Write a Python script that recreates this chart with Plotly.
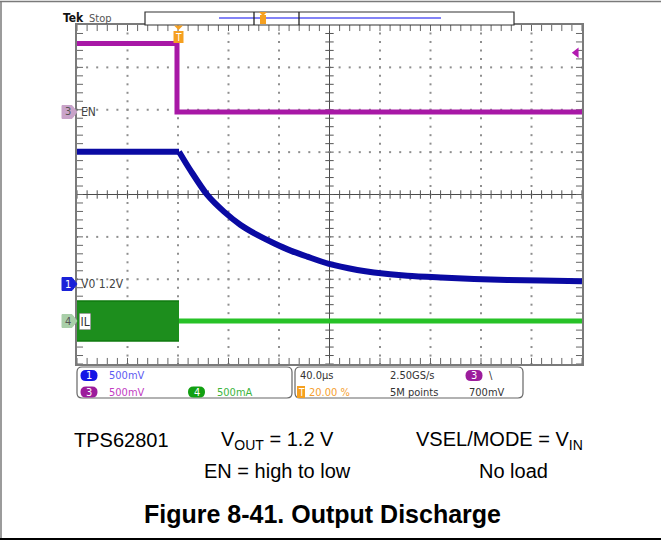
import numpy as np
import plotly.graph_objects as go

# ---------------- data ----------------
T_DIV = 40.0                 # µs / div
T_MIN, T_MAX = -80.0, 320.0  # trigger at 20 %
CH1_SCALE, CH1_POS = 0.5, -2.11    # VO   500 mV/div
CH3_SCALE, CH3_POS = 0.5, 1.946    # EN   500 mV/div
CH4_SCALE, CH4_POS = 0.5, -2.983   # IL   500 mA/div
TRIG_LEVEL = 0.7                   # V on ch3

vo_t = [-80, 0.8, 10.0, 23.2, 36.4, 49.6, 62.8, 76.0, 89.2, 102.4, 119.6,
        142.0, 155.2, 181.6, 208.1, 234.5, 260.9, 287.3, 320]
vo_v = [1.56, 1.56, 1.337, 1.05, 0.853, 0.696, 0.578, 0.48, 0.393, 0.322, 0.236,
        0.165, 0.135, 0.096, 0.075, 0.059, 0.047, 0.039, 0.030]

en_t = [-80, -0.8, -0.8, 320]
en_v = [0.81, 0.81, 0.0, 0.0]

il_band_t = [-80, 0.8]
il_band_hi = [0.236, 0.236]
il_band_lo = [-0.236, -0.236]
il_t = [0.8, 320]
il_v = [0.0, 0.0]

# ---------------- helpers ----------------
W, H = 661, 540
L, R, T, B = 77, 582, 25, 364


def PX(x):
    return (x - L) / (R - L)


def PY(y):
    return (B - y) / (B - T)


def div(v, scale, pos):
    return [a / scale + pos for a in v]


FONT_SCOPE = "Liberation Sans Narrow, DejaVu Sans Condensed, Liberation Sans, Arial"
FONT_BODY = "Liberation Sans, Arial"

fig = go.Figure()

# grid dots
gx, gy = [], []
for k in np.arange(T_MIN + T_DIV, T_MAX, T_DIV):
    if abs(k - 120) < 1e-6:
        continue
    for yy in np.arange(-4, 4.001, 0.2):
        gx.append(k)
        gy.append(yy)
for yy in range(-3, 4):
    if yy == 0:
        continue
    for k in np.arange(T_MIN, T_MAX + 0.001, T_DIV / 5):
        gx.append(k)
        gy.append(yy)
fig.add_trace(go.Scatter(x=gx, y=gy, mode="markers", hoverinfo="skip",
                         marker=dict(symbol="square", size=2, color="#8e8e8e")))

# center cross ticks + border ticks
tick_t = list(np.arange(T_MIN, T_MAX + 0.001, T_DIV / 5))
tick_y = list(np.arange(-4, 4.001, 0.2))
fig.add_trace(go.Scatter(x=tick_t, y=[0] * len(tick_t), mode="markers", hoverinfo="skip",
                         marker=dict(symbol="line-ns", size=6, line=dict(width=1, color="#555"))))
fig.add_trace(go.Scatter(x=[120] * len(tick_y), y=tick_y, mode="markers", hoverinfo="skip",
                         marker=dict(symbol="line-ew", size=6, line=dict(width=1, color="#555"))))
fig.add_trace(go.Scatter(x=tick_t + tick_t, y=[3.94] * len(tick_t) + [-3.94] * len(tick_t),
                         mode="markers", hoverinfo="skip",
                         marker=dict(symbol="line-ns", size=5, line=dict(width=1, color="#666"))))
fig.add_trace(go.Scatter(x=[-78] * len(tick_y) + [318] * len(tick_y), y=tick_y + tick_y,
                         mode="markers", hoverinfo="skip",
                         marker=dict(symbol="line-ew", size=5, line=dict(width=1, color="#666"))))

# IL band (switching, before trigger)
fig.add_trace(go.Scatter(x=il_band_t, y=div(il_band_hi, CH4_SCALE, CH4_POS), mode="lines",
                         line=dict(color="#0f7a0f", width=1.5), hoverinfo="skip"))
fig.add_trace(go.Scatter(x=il_band_t, y=div(il_band_lo, CH4_SCALE, CH4_POS), mode="lines",
                         line=dict(color="#0f7a0f", width=1.5), fill="tonexty",
                         fillcolor="#1d8e1d", hoverinfo="skip"))
# IL after trigger
fig.add_trace(go.Scatter(x=il_t, y=div(il_v, CH4_SCALE, CH4_POS), mode="lines",
                         line=dict(color="#27c227", width=5), hoverinfo="skip"))
# EN
fig.add_trace(go.Scatter(x=en_t, y=div(en_v, CH3_SCALE, CH3_POS), mode="lines",
                         line=dict(color="#a818a6", width=5), hoverinfo="skip"))
fig.add_trace(go.Scatter(x=en_t[1:3], y=div(en_v[1:3], CH3_SCALE, CH3_POS), mode="lines",
                         line=dict(color="#a818a6", width=1.5), hoverinfo="skip"))
# VO: flat part + smooth decay
fig.add_trace(go.Scatter(x=vo_t[:2], y=div(vo_v[:2], CH1_SCALE, CH1_POS), mode="lines",
                         line=dict(color="#0a0aa3", width=6), hoverinfo="skip"))
fig.add_trace(go.Scatter(x=vo_t[1:], y=div(vo_v[1:], CH1_SCALE, CH1_POS), mode="lines",
                         line=dict(color="#0a0aa3", width=6, shape="spline", smoothing=0.8),
                         hoverinfo="skip"))

# trigger level arrow (right edge)
fig.add_trace(go.Scatter(x=[315.5], y=[TRIG_LEVEL / CH3_SCALE + CH3_POS], mode="markers",
                         hoverinfo="skip", cliponaxis=False,
                         marker=dict(symbol="triangle-left", size=9, color="#b21ab0")))

shapes = []
annotations = []

# center cross lines
shapes.append(dict(type="line", xref="x", yref="y", x0=120, x1=120, y0=-4, y1=4,
                   line=dict(color="#4a4a4a", width=1), layer="below"))
shapes.append(dict(type="line", xref="x", yref="y", x0=T_MIN, x1=T_MAX, y0=0, y1=0,
                   line=dict(color="#4a4a4a", width=1), layer="below"))

# outer figure border
shapes.append(dict(type="line", xref="paper", yref="paper", x0=PX(0), x1=PX(661), y0=PY(1.5), y1=PY(1.5),
                   line=dict(color="#7a7a7a", width=1.5)))
shapes.append(dict(type="line", xref="paper", yref="paper", x0=PX(1), x1=PX(1), y0=PY(1.5), y1=PY(540),
                   line=dict(color="#7a7a7a", width=1.5)))
shapes.append(dict(type="line", xref="paper", yref="paper", x0=PX(0), x1=PX(661), y0=PY(539), y1=PY(539),
                   line=dict(color="#000", width=2)))

# record bar
shapes.append(dict(type="rect", xref="paper", yref="paper", x0=PX(145), x1=PX(514), y0=PY(25), y1=PY(12),
                   line=dict(color="#333", width=1.2), fillcolor="white"))
shapes.append(dict(type="line", xref="paper", yref="paper", x0=PX(219), x1=PX(441), y0=PY(18), y1=PY(18),
                   line=dict(color="#5a5af5", width=1.3)))
for bx in (254, 299):
    shapes.append(dict(type="line", xref="paper", yref="paper", x0=PX(bx), x1=PX(bx), y0=PY(25), y1=PY(12),
                       line=dict(color="#222", width=1.3)))
shapes.append(dict(type="rect", xref="paper", yref="paper", x0=PX(260), x1=PX(266), y0=PY(24), y1=PY(15),
                   line=dict(width=0), fillcolor="#f5a020"))
shapes.append(dict(type="path", xref="paper", yref="paper",
                   path=f"M {PX(259)},{PY(12)} L {PX(267)},{PY(12)} L {PX(263)},{PY(16)} Z",
                   line=dict(width=0), fillcolor="#f5a020"))

# trigger position marker (top of graticule)
shapes.append(dict(type="path", xref="paper", yref="paper",
                   path=f"M {PX(174)},{PY(25.5)} L {PX(183)},{PY(25.5)} L {PX(178.5)},{PY(30)} Z",
                   line=dict(width=0), fillcolor="#f5a020"))
shapes.append(dict(type="rect", xref="paper", yref="paper", x0=PX(173.5), x1=PX(183.5), y0=PY(43), y1=PY(31),
                   line=dict(width=0), fillcolor="#f5a020"))
annotations.append(dict(xref="paper", yref="paper", x=PX(178.5), y=PY(37), text="T", showarrow=False,
                        font=dict(family=FONT_SCOPE, size=10, color="white"), xanchor="center", yanchor="middle"))


# channel markers on the left
def chan_tag(yc, fill, txtcol, label):
    x0, x1, xt = 62, 72, 77
    p = (f"M {PX(x0)},{PY(yc - 6.5)} L {PX(x1)},{PY(yc - 6.5)} L {PX(xt)},{PY(yc)} "
         f"L {PX(x1)},{PY(yc + 6.5)} L {PX(x0)},{PY(yc + 6.5)} Z")
    shapes.append(dict(type="path", xref="paper", yref="paper", path=p, fillcolor=fill,
                       line=dict(color=fill, width=1)))
    annotations.append(dict(xref="paper", yref="paper", x=PX(68), y=PY(yc), text=label, showarrow=False,
                            font=dict(family=FONT_SCOPE, size=11, color=txtcol),
                            xanchor="center", yanchor="middle"))


chan_tag(112, "#c9a3c9", "#555", "3")
chan_tag(284, "#1a22d8", "white", "1")
chan_tag(321, "#a9cfa9", "#555", "4")

annotations.append(dict(xref="paper", yref="paper", x=PX(79), y=PY(112), text="EN", showarrow=False,
                        font=dict(family=FONT_SCOPE, size=12, color="#444"), xanchor="left", yanchor="middle"))
annotations.append(dict(xref="paper", yref="paper", x=PX(79), y=PY(284), text="V0 1.2V", showarrow=False,
                        font=dict(family=FONT_SCOPE, size=12, color="#444"), xanchor="left", yanchor="middle"))
annotations.append(dict(xref="paper", yref="paper", x=PX(79), y=PY(321), text="IL", showarrow=False,
                        font=dict(family=FONT_SCOPE, size=12, color="#333"), xanchor="left", yanchor="middle",
                        bgcolor="white", bordercolor="#666", borderwidth=0.5, borderpad=1))

# header text
annotations.append(dict(xref="paper", yref="paper", x=PX(61), y=PY(18), text="<b>Tek</b>", showarrow=False,
                        font=dict(family=FONT_SCOPE, size=12, color="#111"), xanchor="left", yanchor="middle"))
annotations.append(dict(xref="paper", yref="paper", x=PX(87), y=PY(18), text="Stop", showarrow=False,
                        font=dict(family=FONT_SCOPE, size=11, color="#555"), xanchor="left", yanchor="middle"))


def rb_path(x0, y0, x1, y1, r):
    return (f"M {PX(x0 + r)},{PY(y0)} L {PX(x1 - r)},{PY(y0)} Q {PX(x1)},{PY(y0)} {PX(x1)},{PY(y0 + r)} "
            f"L {PX(x1)},{PY(y1 - r)} Q {PX(x1)},{PY(y1)} {PX(x1 - r)},{PY(y1)} "
            f"L {PX(x0 + r)},{PY(y1)} Q {PX(x0)},{PY(y1)} {PX(x0)},{PY(y1 - r)} "
            f"L {PX(x0)},{PY(y0 + r)} Q {PX(x0)},{PY(y0)} {PX(x0 + r)},{PY(y0)} Z")


# info boxes
for bx0, bx1 in ((77, 292), (295, 523)):
    shapes.append(dict(type="path", xref="paper", yref="paper", path=rb_path(bx0, 367, bx1, 398, 5),
                       line=dict(color="#666", width=1.2), fillcolor="rgba(0,0,0,0)"))


def chip(xc, yc, fill, label):
    shapes.append(dict(type="path", xref="paper", yref="paper",
                       path=rb_path(xc - 8.5, yc - 5.5, xc + 8.5, yc + 5.5, 5.5),
                       line=dict(width=0), fillcolor=fill))
    annotations.append(dict(xref="paper", yref="paper", x=PX(xc), y=PY(yc), text=label, showarrow=False,
                            font=dict(family=FONT_SCOPE, size=11, color="white"),
                            xanchor="center", yanchor="middle"))


chip(89, 375.5, "#1414e6", "1")
chip(89, 392, "#9c1c9c", "3")
chip(196.5, 392, "#12a012", "4")
chip(474, 375.5, "#9c1c9c", "3")


def stxt(x, y, s, col, size=11):
    annotations.append(dict(xref="paper", yref="paper", x=PX(x), y=PY(y), text=s, showarrow=False,
                            font=dict(family=FONT_SCOPE, size=size, color=col),
                            xanchor="left", yanchor="middle"))


stxt(107, 375.5, "500mV", "#5c5cf2")
stxt(107, 392, "500mV", "#c23cc2")
stxt(215, 392, "500mA", "#3cb43c")
stxt(298, 375.5, "40.0µs", "#333")
shapes.append(dict(type="rect", xref="paper", yref="paper", x0=PX(297), x1=PX(305), y0=PY(398), y1=PY(386),
                   line=dict(width=0), fillcolor="#f5a020"))
annotations.append(dict(xref="paper", yref="paper", x=PX(301), y=PY(392), text="T", showarrow=False,
                        font=dict(family=FONT_SCOPE, size=10, color="white"), xanchor="center", yanchor="middle"))
stxt(307, 392, "20.00 %", "#f5a030")
stxt(388, 375.5, "2.50GS/s", "#333")
stxt(388, 392, "5M points", "#333")
stxt(487, 375.5, "\\", "#333")
stxt(467, 392, "700mV", "#333")


# caption text
def btxt(x, y, s, size=20, bold=False):
    annotations.append(dict(xref="paper", yref="paper", x=PX(x), y=PY(y),
                            text=f"<b>{s}</b>" if bold else s, showarrow=False,
                            font=dict(family=FONT_BODY, size=size, color="#000"),
                            xanchor="left", yanchor="middle"))


btxt(72, 440, "TPS62801")
btxt(219, 440, "V<sub>OUT</sub> = 1.2 V")
btxt(414, 440, "VSEL/MODE = V<sub>IN</sub>")
btxt(202, 471, "EN = high to low")
btxt(477, 471, "No load")
btxt(142, 514, "Figure 8-41. Output Discharge", size=25, bold=True)

fig.update_layout(
    width=W, height=H,
    margin=dict(l=L, r=W - R, t=T, b=H - B, pad=0),
    paper_bgcolor="white", plot_bgcolor="white",
    showlegend=False,
    xaxis=dict(range=[T_MIN, T_MAX], showgrid=False, zeroline=False, showticklabels=False,
               ticks="", showline=True, mirror=True, linecolor="#7a7a7a", linewidth=2, fixedrange=True),
    yaxis=dict(range=[-4, 4], showgrid=False, zeroline=False, showticklabels=False,
               ticks="", showline=True, mirror=True, linecolor="#7a7a7a", linewidth=2, fixedrange=True),
    shapes=shapes,
    annotations=annotations,
)

fig.write_html("out.html", config={"displayModeBar": False},
               post_script="document.body.style.margin='0px';")
